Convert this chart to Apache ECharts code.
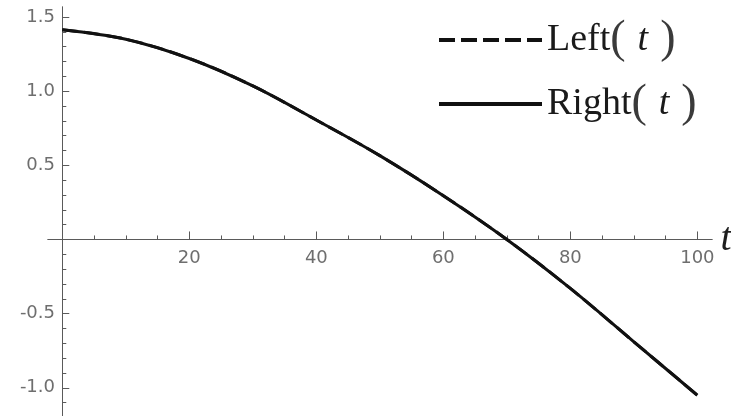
<!DOCTYPE html>
<html>
<head>
<meta charset="utf-8">
<script src="https://cdn.jsdelivr.net/npm/echarts@6/dist/echarts.min.js"></script>
<style>
  html, body { margin: 0; padding: 0; background: #ffffff; }
  #chart { width: 731px; height: 416px; }
</style>
</head>
<body>
<div id="chart"></div>
<script>
// Sample times and the two one-sided values of the function
const tValues     = [0, 10, 20, 30, 40, 50, 60, 70, 80, 90, 100];
const leftValues  = [1.414, 1.35, 1.22, 1.035, 0.805, 0.565, 0.295, 0.00, -0.33, -0.69, -1.05];
const rightValues = [1.414, 1.35, 1.22, 1.035, 0.805, 0.565, 0.295, 0.00, -0.33, -0.69, -1.05];

// Tick positions
const xMajorTicks = [20, 40, 60, 80, 100];
const xMinorTicks = [5, 10, 15, 25, 30, 35, 45, 50, 55, 65, 70, 75, 85, 90, 95];
const yMajorTicks = [-1.0, -0.5, 0.5, 1.0, 1.5];
const yMinorTicks = [-1.1, -0.9, -0.8, -0.7, -0.6, -0.4, -0.3, -0.2, -0.1,
                     0.1, 0.2, 0.3, 0.4, 0.6, 0.7, 0.8, 0.9, 1.1, 1.2, 1.3, 1.4];

const seriesNames = ['Left', 'Right'];

const pairs = (ys) => tValues.map((t, i) => [t, ys[i]]);

const axisColor = '#5a5a5a';
const labelStyle = {
  color: '#6e6e6e',
  fontFamily: 'DejaVu Sans',
  fontSize: 18
};

const chart = echarts.init(document.getElementById('chart'), null, { renderer: 'canvas' });

const X_MIN = -2.25, X_MAX = 102.3;
const Y_MIN = -1.19, Y_MAX = 1.567;

chart.setOption({
  animation: false,
  backgroundColor: '#ffffff',
  grid: { left: 48, right: 19, top: 7, bottom: 0, containLabel: false, outerBoundsMode: 'none' },
  legend: {
    orient: 'vertical',
    left: 437,
    top: 17,
    padding: 0,
    itemWidth: 103,
    itemHeight: 10,
    itemGap: 18,
    selectedMode: false,
    data: seriesNames,
    itemStyle: { opacity: 0, borderWidth: 0 },
    lineStyle: { width: 4 },
    textStyle: {
      lineHeight: 42,
      rich: {
        n: { fontFamily: 'Liberation Serif', fontSize: 38, lineHeight: 42, color: '#1a1a1a' },
        p: { fontFamily: 'Liberation Serif', fontSize: 46, lineHeight: 42, color: '#3a3a3a' },
        t: { fontFamily: 'Liberation Serif', fontStyle: 'italic', fontSize: 38, lineHeight: 42, color: '#1a1a1a', padding: [0, 12, 0, 12] }
      }
    },
    formatter: (name) => '{n|' + name + '}{p|(}{t|t}{p|)}'
  },
  xAxis: [
    {
      type: 'value', min: X_MIN, max: X_MAX,
      name: 't', nameLocation: 'end', nameGap: 8,
      nameTextStyle: {
        fontFamily: 'Liberation Serif', fontStyle: 'italic', fontSize: 40,
        color: '#1e1e1e', padding: [0, 0, 20, 0]
      },
      axisLine: { onZero: true, lineStyle: { color: axisColor, width: 1 } },
      axisTick: { inside: true, length: 8, customValues: xMajorTicks, lineStyle: { color: axisColor } },
      axisLabel: Object.assign({ margin: -167, customValues: xMajorTicks, formatter: (v) => String(v) }, labelStyle),
      splitLine: { show: false }
    },
    {
      type: 'value', min: X_MIN, max: X_MAX, position: 'bottom',
      axisLine: { onZero: true, lineStyle: { color: axisColor, width: 1 } },
      axisTick: { inside: true, length: 4, customValues: xMinorTicks, lineStyle: { color: axisColor } },
      axisLabel: { show: false },
      splitLine: { show: false }
    }
  ],
  yAxis: [
    {
      type: 'value', min: Y_MIN, max: Y_MAX,
      axisLine: { onZero: true, lineStyle: { color: axisColor, width: 1 } },
      axisTick: { inside: true, length: 7, customValues: yMajorTicks, lineStyle: { color: axisColor } },
      axisLabel: Object.assign({ margin: -7, customValues: yMajorTicks, formatter: (v) => v.toFixed(1) }, labelStyle),
      splitLine: { show: false }
    },
    {
      type: 'value', min: Y_MIN, max: Y_MAX, position: 'left',
      axisLine: { onZero: true, lineStyle: { color: axisColor, width: 1 } },
      axisTick: { inside: true, length: 4, customValues: yMinorTicks, lineStyle: { color: axisColor } },
      axisLabel: { show: false },
      splitLine: { show: false }
    }
  ],
  series: [
    {
      name: seriesNames[0], type: 'line', xAxisIndex: 0, yAxisIndex: 0,
      data: pairs(leftValues), smooth: 0.35, showSymbol: false, symbol: 'none',
      lineStyle: { color: '#111111', width: 3, type: [16, 6] },
      itemStyle: { color: '#111111' }
    },
    {
      name: seriesNames[1], type: 'line', xAxisIndex: 0, yAxisIndex: 0,
      data: pairs(rightValues), smooth: 0.35, showSymbol: false, symbol: 'none',
      lineStyle: { color: '#111111', width: 3, type: 'solid' },
      itemStyle: { color: '#111111' }
    }
  ]
});
</script>
</body>
</html>
